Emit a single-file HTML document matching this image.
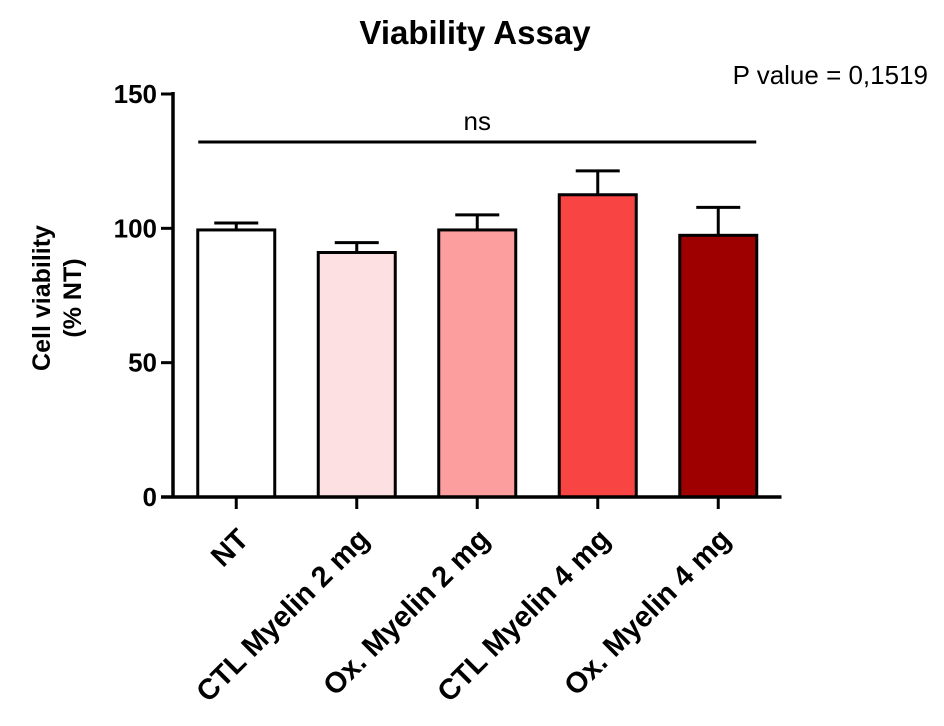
<!DOCTYPE html>
<html><head><meta charset="utf-8"><style>
body{margin:0;background:#fff;}
svg{display:block;font-family:"Liberation Sans",Arial,sans-serif;}
</style></head><body>
<svg id="chart" width="944" height="726">
<text x="475" y="44" text-anchor="middle" font-size="33" font-weight="bold">Viability Assay</text>
<text x="928" y="84" text-anchor="end" font-size="26">P value = 0,1519</text>
<text transform="translate(50,298) rotate(-90)" text-anchor="middle" font-size="25" font-weight="bold"><tspan x="0" dy="0">Cell viability</tspan><tspan x="0" dy="31">(% NT)</tspan></text>
<g id="plot"></g>
</svg>
<script>
const categories=["NT","CTL Myelin 2 mg","Ox. Myelin 2 mg","CTL Myelin 4 mg","Ox. Myelin 4 mg"];
const means=[99.4,91,99.4,112.5,97.4];
const errors=[2.6,3.7,5.6,8.9,10.4];
const colors=["#ffffff","#fde0e2","#fc9e9e","#f94444","#9e0000"];
const yTicks=[0,50,100,150];
const nsLabel="ns";
const ns="http://www.w3.org/2000/svg";
const g=document.getElementById('plot');
const x0=173,y0=497,yTop=94,bandStart=176,band=120.5,barW=77;
function y(v){return y0-(v/150)*(y0-yTop);}
function cx(i){return bandStart+band*i+band/2;}
function mk(t,a,name){const e=document.createElementNS(ns,t);for(const k in a)e.setAttribute(k,a[k]);


g.appendChild(e);return e;}
categories.forEach((c,i)=>{
 const m=means[i],er=errors[i],x=cx(i);
 mk('line',{x1:x,x2:x,y1:y(m),y2:y(m+er),stroke:'#000','stroke-width':3},'error-bar-'+i);
 mk('line',{x1:x-22,x2:x+22,y1:y(m+er),y2:y(m+er),stroke:'#000','stroke-width':3},'error-cap-'+i);
 mk('rect',{x:x-barW/2,y:y(m),width:barW,height:y0-y(m),fill:colors[i],stroke:'#000','stroke-width':3},'bar-'+i);
 mk('line',{x1:x,x2:x,y1:y0,y2:y0+12,stroke:'#000','stroke-width':3},'x-tick-'+i);
 const t=mk('text',{transform:`translate(${x+14},${y0+44}) rotate(-45)`,'text-anchor':'end','font-size':29,'font-weight':'bold'},'x-tick-label-'+i);
 t.textContent=c;
});
mk('line',{x1:x0,x2:x0,y1:yTop-2,y2:y0+1.5,stroke:'#000','stroke-width':3.5},'y-axis-line');
mk('line',{x1:x0-12,x2:bandStart+band*5+3,y1:y0,y2:y0,stroke:'#000','stroke-width':3.5},'x-axis-line');
yTicks.forEach(v=>{
 mk('line',{x1:x0-12,x2:x0,y1:y(v),y2:y(v),stroke:'#000','stroke-width':3},'y-tick-'+v);
 const t=mk('text',{x:x0-16,y:y(v)+9,'text-anchor':'end','font-size':26,'font-weight':'bold'},'y-tick-label-'+v);
 t.textContent=v;
});
mk('line',{x1:cx(0)-38,x2:cx(4)+38,y1:142,y2:142,stroke:'#000','stroke-width':3},'significance-line');
const st=mk('text',{x:(cx(0)+cx(4))/2,y:130,'text-anchor':'middle','font-size':26},'significance-label');
st.textContent=nsLabel;
</script>
</body></html>
